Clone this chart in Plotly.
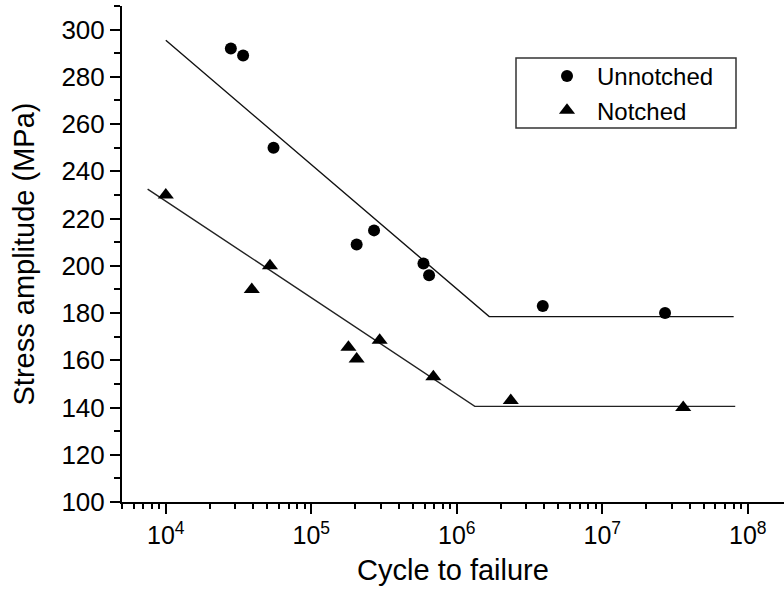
import math
import plotly.graph_objects as go

# ---- data ----
unnotched_cycles = [28000, 34000, 55000, 205000, 270000, 590000, 645000, 3.9e6, 2.7e7]
unnotched_stress = [292, 289, 250, 209, 215, 201, 196, 183, 180]

notched_cycles = [1.0e4, 3.9e4, 5.2e4, 1.8e5, 2.05e5, 2.95e5, 6.9e5, 2.35e6, 3.6e7]
notched_stress = [230, 190, 200, 165.5, 160.5, 168.5, 153, 143, 140]

unnotched_fit_cycles = [1.0e4, 1.67e6, 8.0e7]
unnotched_fit_stress = [295.5, 178.5, 178.5]

notched_fit_cycles = [7.5e3, 1.33e6, 8.2e7]
notched_fit_stress = [232.5, 140.5, 140.5]

x_tick_vals = [1e4, 1e5, 1e6, 1e7, 1e8]
x_tick_text = ["10<sup>4</sup>", "10<sup>5</sup>", "10<sup>6</sup>", "10<sup>7</sup>", "10<sup>8</sup>"]

FONT = "Liberation Sans, Arial, sans-serif"

fig = go.Figure()

fig.add_trace(go.Scatter(x=unnotched_fit_cycles, y=unnotched_fit_stress, mode="lines",
                         line=dict(color="#111111", width=1.4), showlegend=False, hoverinfo="skip"))
fig.add_trace(go.Scatter(x=notched_fit_cycles, y=notched_fit_stress, mode="lines",
                         line=dict(color="#222222", width=1.4), showlegend=False, hoverinfo="skip"))

fig.add_trace(go.Scatter(x=unnotched_cycles, y=unnotched_stress, mode="markers", name="Unnotched",
                         marker=dict(symbol="circle", size=12, color="black")))
fig.add_trace(go.Scatter(x=notched_cycles, y=notched_stress, mode="markers", name="Notched",
                         marker=dict(symbol="triangle-up", size=14, color="black")))

minor_x = [m * 10 ** e for e in range(3, 9) for m in range(2, 10)]

W, H = 784, 592
ml, mr, mt, mb = 122, 0, 6, 90
pw, ph = W - ml - mr, H - mt - mb

def px_to_paper_x(px):
    return (px - ml) / pw

def px_to_paper_y(py):
    return (H - mb - py) / ph

fig.update_layout(
    width=W, height=H,
    margin=dict(l=ml, r=mr, t=mt, b=mb),
    paper_bgcolor="white", plot_bgcolor="white",
    font=dict(family=FONT, color="black", size=24),
    showlegend=True,
    legend=dict(x=px_to_paper_x(537), y=px_to_paper_y(54), xanchor="left", yanchor="top",
                bgcolor="rgba(0,0,0,0)", borderwidth=0, font=dict(size=24, family=FONT),
                itemwidth=50, tracegroupgap=0),
    xaxis=dict(
        type="log", range=[math.log10(5000), 8.249],
        tickvals=x_tick_vals, ticktext=x_tick_text,
        ticks="outside", ticklen=10, tickwidth=2, tickcolor="black",
        showline=True, linewidth=2, linecolor="black", showgrid=False, zeroline=False,
        tickfont=dict(size=25, family=FONT),
        minor=dict(tickvals=minor_x, ticks="outside", ticklen=5, tickwidth=1.5, tickcolor="black", showgrid=False),
        title=dict(text="Cycle to failure", font=dict(size=29, family=FONT), standoff=12),
    ),
    yaxis=dict(
        range=[100, 310], tick0=100, dtick=20,
        ticks="outside", ticklen=10, tickwidth=2, tickcolor="black",
        showline=True, linewidth=2, linecolor="black", showgrid=False, zeroline=False,
        tickfont=dict(size=26, family=FONT),
        minor=dict(dtick=10, tick0=100, ticks="outside", ticklen=6, tickwidth=1.5, tickcolor="black", showgrid=False),
        title=dict(text="Stress amplitude (MPa)", font=dict(size=29, family=FONT), standoff=18),
    ),
    shapes=[dict(type="rect", xref="paper", yref="paper",
                 x0=px_to_paper_x(516), x1=px_to_paper_x(736),
                 y0=px_to_paper_y(128), y1=px_to_paper_y(58),
                 line=dict(color="#333333", width=1.5), fillcolor="rgba(0,0,0,0)")],
)

fig.write_html("out.html")
